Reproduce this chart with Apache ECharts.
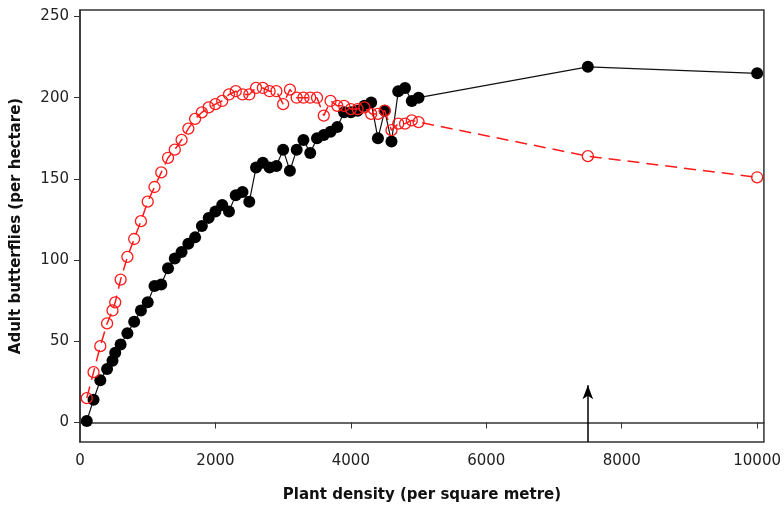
<!DOCTYPE html>
<html>
<head>
<meta charset="utf-8">
<script src="https://cdn.jsdelivr.net/npm/echarts@6/dist/echarts.min.js"></script>
<style>
  html, body { margin: 0; padding: 0; background: #fff; }
  #chart { width: 784px; height: 508px; }
</style>
</head>
<body>
<div id="chart"></div>
<script>
// plant density (per square metre)
const densities = [100, 200, 300, 400, 480, 520, 600, 700, 800, 900, 1000, 1100, 1200, 1300, 1400, 1500,
  1600, 1700, 1800, 1900, 2000, 2100, 2200, 2300, 2400, 2500, 2600, 2700, 2800, 2900, 3000, 3100, 3200,
  3300, 3400, 3500, 3600, 3700, 3800, 3900, 4000, 4100, 4200, 4300, 4400, 4500, 4600, 4700, 4800, 4900,
  5000, 7500, 10000];

// filled black circles
const blackValues = [1, 14, 26, 33, 38, 43, 48, 55, 62, 69, 74, 84, 85, 95, 101, 105,
  110, 114, 121, 126, 130, 134, 130, 140, 142, 136, 157, 160, 157, 158, 168, 155, 168,
  174, 166, 175, 177, 179, 182, 191, 191, 192, 195, 197, 175, 192, 173, 204, 206, 198,
  200, 219, 215];

// open red circles
const redValues = [15, 31, 47, 61, 69, 74, 88, 102, 113, 124, 136, 145, 154, 163, 168, 174,
  181, 187, 191, 194, 196, 198, 202, 204, 202, 202, 206, 206, 204, 204, 196, 205, 200,
  200, 200, 200, 189, 198, 195, 195, 193, 193, 194, 190, 190, 192, 180, 184, 184, 186,
  185, 164, 151];

const xTicks = [0, 2000, 4000, 6000, 8000, 10000];
const yTicks = [0, 50, 100, 150, 200, 250];

// arrow marking density 7500
const arrowX = 7500;
const arrowTop = 23;

const chart = echarts.init(document.getElementById('chart'));

const font = 'DejaVu Sans, Verdana, sans-serif';

chart.setOption({
  animation: false,
  backgroundColor: '#fff',
  grid: {
    left: 80,
    right: 20,
    top: 10,
    bottom: 65,
    show: true,
    borderColor: '#333',
    borderWidth: 1.5,
  },
  xAxis: {
    type: 'value',
    min: 0,
    max: 10100,
    name: 'Plant density (per square metre)',
    nameLocation: 'middle',
    nameGap: 46,
    nameTextStyle: { fontFamily: font, fontSize: 15, fontWeight: 'bold', color: '#111' },
    axisLine: { lineStyle: { color: '#333', width: 1.5 } },
    axisTick: { show: true, length: 6, customValues: xTicks, lineStyle: { color: '#333' } },
    axisLabel: {
      customValues: xTicks,
      margin: 12,
      fontFamily: font,
      fontSize: 15,
      color: '#222',
      formatter: (v) => String(v),
    },
    splitLine: { show: false },
  },
  yAxis: {
    type: 'value',
    min: -12,
    max: 254,
    name: 'Adult butterflies (per hectare)',
    nameLocation: 'middle',
    nameGap: 56,
    nameTextStyle: { fontFamily: font, fontSize: 15, fontWeight: 'bold', color: '#111' },
    axisLine: { show: true, lineStyle: { color: '#333', width: 1.5 } },
    axisTick: { show: true, length: 6, customValues: yTicks, lineStyle: { color: '#333' } },
    axisLabel: {
      customValues: yTicks,
      margin: 11,
      fontFamily: font,
      fontSize: 15,
      color: '#222',
      formatter: (v) => String(v),
    },
    splitLine: { show: false },
  },
  series: [
    {
      name: 'black',
      type: 'line',
      data: densities.map((d, i) => [d, blackValues[i]]),
      symbol: 'circle',
      symbolSize: 12,
      itemStyle: { color: '#000' },
      lineStyle: { color: '#111', width: 1.2 },
      z: 2,
      markLine: {
        silent: true,
        symbol: ['none', 'arrow'],
        symbolSize: [8, 14],
        label: { show: false },
        lineStyle: { color: '#000', width: 1.5, type: 'solid' },
        data: [[{ coord: [arrowX, -12] }, { coord: [arrowX, arrowTop] }]],
      },
    },
    {
      name: 'red',
      type: 'line',
      data: densities.map((d, i) => [d, redValues[i]]),
      symbol: 'circle',
      symbolSize: 11,
      itemStyle: { color: 'rgba(255,255,255,0)', borderColor: '#ff1a1a', borderWidth: 1.3 },
      lineStyle: { color: '#ff1a1a', width: 1.5, type: [12, 7] },
      z: 3,
    },
  ],
});
</script>
</body>
</html>
